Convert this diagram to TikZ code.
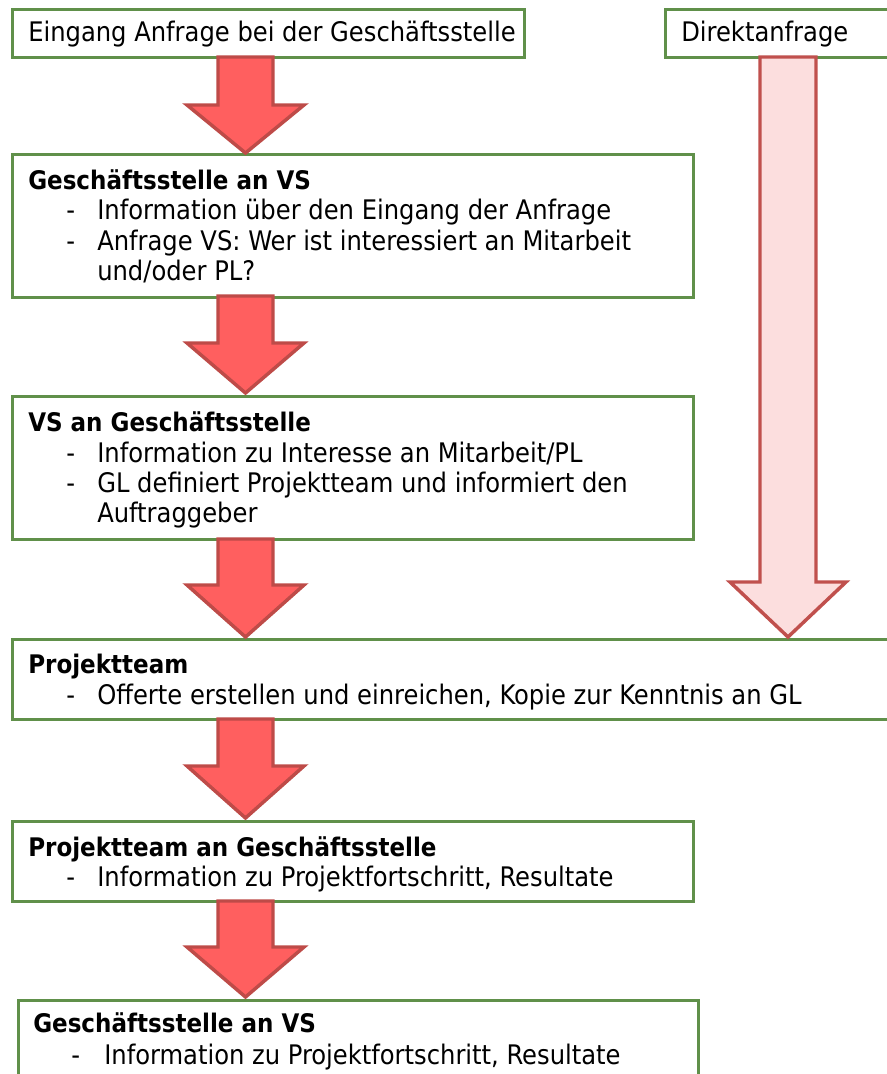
\documentclass[tikz,border=0pt]{standalone}
\usepackage{fontspec}
\setmainfont{DejaVu Sans Condensed}
\definecolor{boxgreen}{HTML}{60904A}
\definecolor{arrfill}{HTML}{FF5F5F}
\definecolor{arrline}{HTML}{BE4B48}
\definecolor{pinkfill}{HTML}{FCDEDE}
\definecolor{pinkline}{HTML}{C0504D}
\tikzset{
  box/.style={draw=boxgreen, line width=2.2pt, fill=white, rectangle, inner sep=0pt, anchor=north west},
  txt/.style={anchor=base west, inner sep=0pt, font=\fontsize{20.2}{24}\selectfont},
  ttl/.style={anchor=base west, inner sep=0pt, font=\fontsize{19.2}{24}\selectfont\bfseries},
  redarrow/.style={fill=arrfill, draw=arrline, line width=2.6pt, line join=miter},
  pinkarrow/.style={fill=pinkfill, draw=pinkline, line width=2.6pt, line join=miter},
}
\begin{document}
\begin{tikzpicture}[x=0.75pt,y=-0.75pt]
\useasboundingbox (0,0) rectangle (887,1074);
\clip (0,0) rectangle (887,1074);
% boxes
\node[box, minimum width=512*0.75pt, minimum height=48*0.75pt] (A) at (11,8) {};
\node[box, minimum width=240*0.75pt, minimum height=48*0.75pt] (B) at (664,8) {};
\node[box, minimum width=681*0.75pt, minimum height=143*0.75pt] (C) at (11,153) {};
\node[box, minimum width=681*0.75pt, minimum height=143*0.75pt] (D) at (11,395) {};
\node[box, minimum width=890*0.75pt, minimum height=80*0.75pt] (E) at (11,638) {};
\node[box, minimum width=681*0.75pt, minimum height=80*0.75pt] (F) at (11,820) {};
\node[box, minimum width=680*0.75pt, minimum height=90*0.75pt] (G) at (17,999) {};
% arrows
\draw[redarrow] (218,57) -- (273,57) -- (273,105) -- (304,105) -- (245.5,153) -- (187,105) -- (218,105) -- cycle;
\draw[redarrow] (218,296) -- (273,296) -- (273,343) -- (304,343) -- (245.5,393) -- (187,343) -- (218,343) -- cycle;
\draw[redarrow] (218,539) -- (273,539) -- (273,585) -- (304,585) -- (245.5,637) -- (187,585) -- (218,585) -- cycle;
\draw[redarrow] (218,719) -- (273,719) -- (273,766) -- (304,766) -- (245.5,818) -- (187,766) -- (218,766) -- cycle;
\draw[redarrow] (218,901) -- (273,901) -- (273,947) -- (304,947) -- (245.5,997) -- (187,947) -- (218,947) -- cycle;
\draw[pinkarrow] (760,57) -- (816,57) -- (816,582) -- (846,582) -- (788,637) -- (730,582) -- (760,582) -- cycle;
% texts
\node[txt] (tA) at (28,42) {Eingang Anfrage bei der Geschäftsstelle};
\node[txt] (tB) at (681,42) {Direktanfrage};
\node[ttl] (tC) at (28,189) {Geschäftsstelle an VS};
\node[txt] at (66,219) {-}; \node[txt] at (97,219) {Information über den Eingang der Anfrage};
\node[txt] at (66,250) {-}; \node[txt] at (97,250) {Anfrage VS: Wer ist interessiert an Mitarbeit};
\node[txt] at (97,280) {und/oder PL?};
\node[ttl] (tD) at (28,431) {VS an Geschäftsstelle};
\node[txt] at (66,462) {-}; \node[txt] at (97,462) {Information zu Interesse an Mitarbeit/PL};
\node[txt] at (66,492) {-}; \node[txt] at (97,492) {GL definiert Projektteam und informiert den};
\node[txt] at (97,522) {Auftraggeber};
\node[ttl] (tE) at (28,673) {Projektteam};
\node[txt] at (66,704) {-}; \node[txt] at (97,704) {Offerte erstellen und einreichen, Kopie zur Kenntnis an GL};
\node[ttl] (tF) at (28,856) {Projektteam an Geschäftsstelle};
\node[txt] at (66,886) {-}; \node[txt] at (97,886) {Information zu Projektfortschritt, Resultate};
\node[ttl] (tG) at (33,1032) {Geschäftsstelle an VS};
\node[txt] at (71,1064) {-}; \node[txt] at (104,1064) {Information zu Projektfortschritt, Resultate};
\end{tikzpicture}
\end{document}
